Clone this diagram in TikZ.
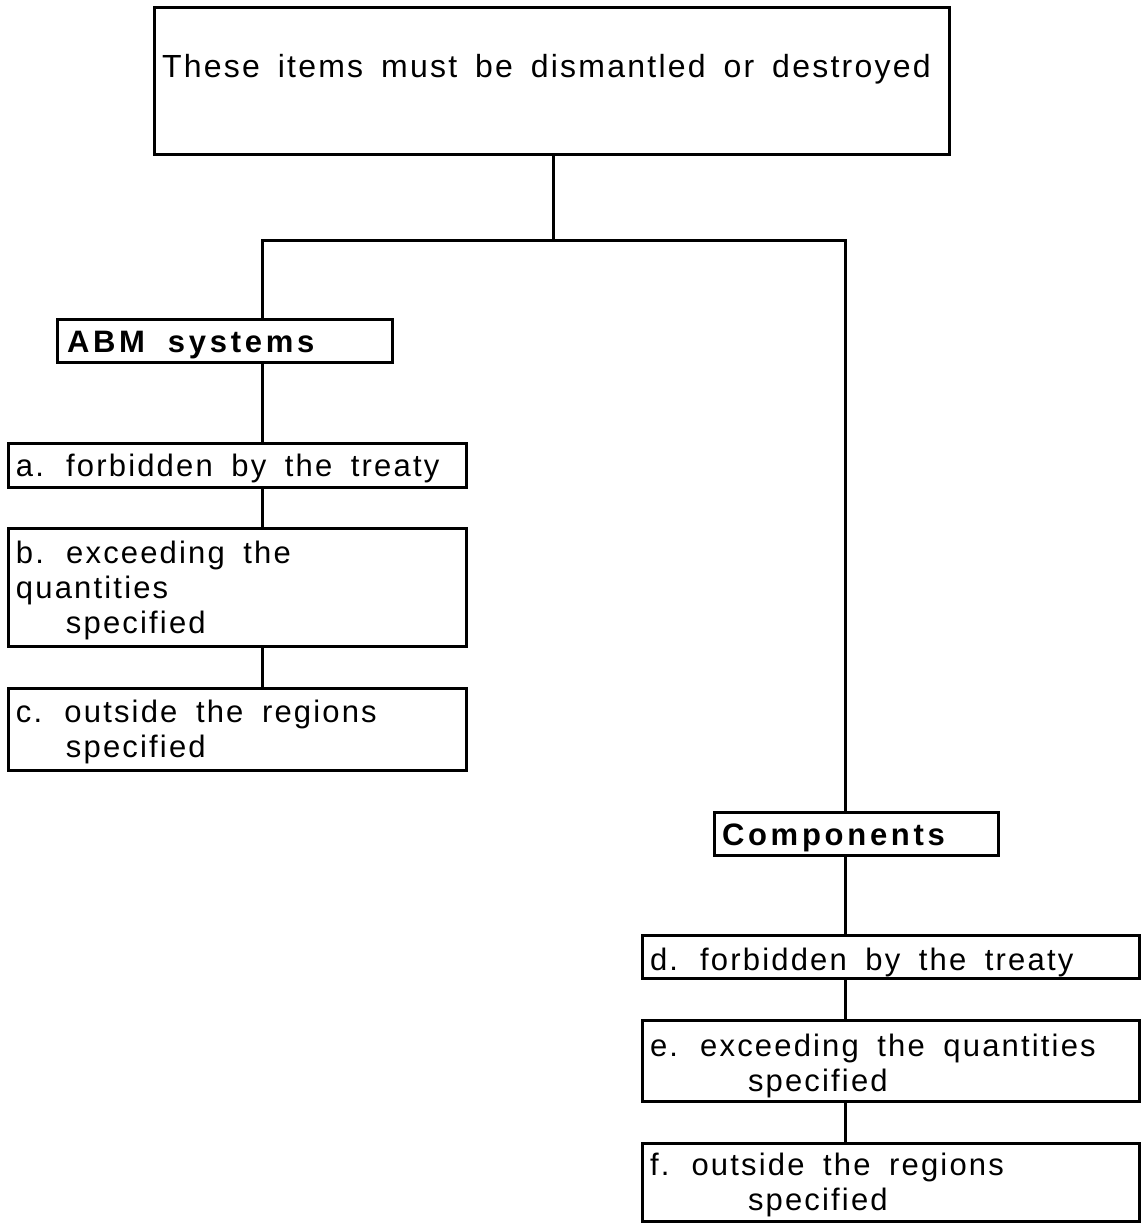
\documentclass[tikz,border=0pt]{standalone}
\usepackage{fontspec}
\setmainfont{Liberation Sans}[LetterSpace=7,BoldFeatures={LetterSpace=12}]
\DeclareRobustCommand\boxfnt{\fontsize{31}{35}\selectfont}
\DeclareRobustCommand\topfnt{\fontsize{32}{36}\selectfont}
\DeclareRobustCommand\headfnt{\fontsize{31}{34}\selectfont\bfseries}
\begin{document}
\begin{tikzpicture}[x=1pt,y=-1pt,
  box/.style={draw, line width=3pt, rectangle, inner xsep=8pt, inner ysep=0pt, align=flush left},
  txt/.style={font=\boxfnt, execute at begin node={\setlength{\spaceskip}{0.6em}}},
  toptxt/.style={font=\topfnt, execute at begin node={\setlength{\spaceskip}{0.56em}}},
  headtxt/.style={font=\headfnt, execute at begin node={\setlength{\spaceskip}{0.74em}}},
  leftbox/.style={box, txt, text width=442pt, minimum width=458pt},
  rightbox/.style={box, txt, text width=481pt, minimum width=497pt},
  conn/.style={line width=3pt}]
\useasboundingbox (0,0) rectangle (1141,1225);

% top box
\node[box, toptxt, text width=779pt, minimum width=795pt, minimum height=147pt,
      text height=23pt, text depth=30pt] (top) at (551.5,81.5)
  {These items must be dismantled or destroyed};

% junction coordinates
\coordinate (jm) at (553,240);
\coordinate (jl) at (262,240);
\coordinate (jr) at (845,240);

% left branch
\node[box, headtxt, inner xsep=10pt, text width=315pt, minimum width=335pt, minimum height=43pt,
      text height=23pt, text depth=0pt] (abm) at (224.5,340.5) {ABM systems};
\node[leftbox, minimum height=44pt, text height=22pt, text depth=0pt] (a) at (237,465)
  {a. forbidden by the treaty};
\node[leftbox, minimum height=118pt, text height=22pt, text depth=70pt] (b) at (237,587)
  {b. exceeding the\\quantities\\\hspace*{50pt}specified};
\node[leftbox, minimum height=82pt, text height=22pt, text depth=36pt] (c) at (237,729)
  {c. outside the regions\\\hspace*{50pt}specified};

% right branch
\node[box, headtxt, text width=268pt, minimum width=284pt, minimum height=43pt,
      text height=23pt, text depth=0pt] (comp) at (856,833.5) {Components};
\node[rightbox, minimum height=43pt, text height=27pt, text depth=0pt] (d) at (890.5,956.5)
  {d. forbidden by the treaty};
\node[rightbox, minimum height=81pt, text height=22pt, text depth=31pt] (e) at (890.5,1060.5)
  {e. exceeding the quantities\\\hspace*{98pt}specified};
\node[rightbox, minimum height=78pt, text height=22pt, text depth=36pt] (f) at (890.5,1182)
  {f. outside the regions\\\hspace*{98pt}specified};

% connectors
\draw[conn] (top.south -| jm) -- (jm);
\draw[conn] (abm.north -| jl) -- (jl) -- (jr) -- (comp.north -| jr);
\draw[conn] (abm.south -| jl) -- (a.north -| jl);
\draw[conn] (a.south -| jl) -- (b.north -| jl);
\draw[conn] (b.south -| jl) -- (c.north -| jl);
\draw[conn] (comp.south -| jr) -- (d.north -| jr);
\draw[conn] (d.south -| jr) -- (e.north -| jr);
\draw[conn] (e.south -| jr) -- (f.north -| jr);
\end{tikzpicture}
\end{document}
